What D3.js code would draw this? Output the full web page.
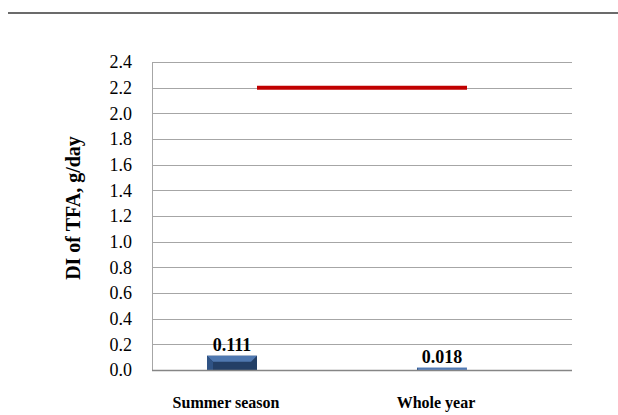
<!DOCTYPE html>
<head>
    <meta charset="utf-8">
    <script src="https://d3js.org/d3.v7.min.js"></script>
    <style>
        body { margin: 0; background: #ffffff; }
        text { font-family: "Liberation Serif", "Times New Roman", serif; fill: #000000; }
        text.tickLabel { font-size: 18px; }
        text.catLabel { font-size: 16px; font-weight: 700; }
        text.valueLabel { font-size: 18px; font-weight: 700; }
        text.axisTitle { font-size: 20px; font-weight: 700; }
        .grid line { stroke: #a6a6a6; stroke-width: 1; shape-rendering: crispEdges; }
    </style>
</head>
<body>
<script>
    // chart data
    var categories = ["Summer season", "Whole year"];
    var diValues = [0.111, 0.018];
    var limitValues = [2.2, 2.2];
    var yTicks = [0, 0.2, 0.4, 0.6, 0.8, 1.0, 1.2, 1.4, 1.6, 1.8, 2.0, 2.2, 2.4];
    var seriesSlots = ["DI", "spare"];

    var width = 618, height = 415;

    var svg = d3.select("body").append("svg")
        .attr("width", width)
        .attr("height", height);

    // rule across the top of the page
    svg.append("line")
        .attr("x1", 8).attr("x2", width)
        .attr("y1", 13).attr("y2", 13)
        .style("stroke", "#3a3a3a")
        .style("stroke-width", 1.5);

    var plot = {left: 152, right: 572, top: 62, bottom: 370};

    var x = d3.scaleBand()
        .domain(categories)
        .range([plot.left, plot.right]);

    var xInner = d3.scaleBand()
        .domain(seriesSlots)
        .range([0, x.bandwidth()])
        .paddingOuter(1.1);

    var y = d3.scaleLinear()
        .domain([0, 2.4])
        .range([plot.bottom, plot.top]);

    // gridlines
    var grid = svg.append("g").attr("class", "grid");
    grid.selectAll("line.h")
        .data(yTicks)
        .enter()
        .append("line")
        .attr("class", "h")
        .attr("x1", plot.left).attr("x2", plot.right)
        .attr("y1", d => Math.round(y(d)) + 0.5)
        .attr("y2", d => Math.round(y(d)) + 0.5);

    grid.append("line")
        .attr("x1", plot.left + 0.5).attr("x2", plot.left + 0.5)
        .attr("y1", y(2.4)).attr("y2", y(0));

    // tick labels
    svg.selectAll("text.tickLabel")
        .data(yTicks)
        .enter()
        .append("text")
        .attr("class", "tickLabel")
        .attr("x", 132)
        .attr("y", d => y(d))
        .attr("dy", "0.35em")
        .style("text-anchor", "end")
        .text(d => d3.format(".1f")(d));

    // axis title
    svg.append("text")
        .attr("class", "axisTitle")
        .attr("transform", `translate(80, 208) rotate(-90)`)
        .style("text-anchor", "middle")
        .text("DI of TFA, g/day");

    // bars with bevel look
    var bw = xInner.bandwidth();
    var barData = categories.map((c, i) => ({cat: c, value: diValues[i]}));
    var bars = svg.selectAll("g.bar")
        .data(barData)
        .enter()
        .append("g")
        .attr("class", "bar");

    bars.append("rect")
        .attr("x", d => x(d.cat) + xInner("DI"))
        .attr("y", d => y(d.value))
        .attr("width", bw)
        .attr("height", d => y(0) - y(d.value))
        .style("fill", d => d.value > 0.05 ? "#233f66" : "#5b83bf");

    bars.append("polygon")
        .attr("points", d => {
            var x0 = x(d.cat) + xInner("DI"), x1 = x0 + bw;
            var t = y(d.value), h = y(0) - t;
            var b = Math.min(6, h / 2);
            return [[x0, t], [x1, t], [x1 - b, t + b], [x0 + b, t + b]].join(" ");
        })
        .style("fill", "#4f78b0");

    bars.append("polygon")
        .attr("points", d => {
            var x0 = x(d.cat) + xInner("DI"), x1 = x0 + bw;
            var t = y(d.value), h = y(0) - t;
            var b = Math.min(6, h / 2);
            return [[x0, t], [x0 + b, t + b], [x0 + b, y(0)], [x0, y(0)]].join(" ");
        })
        .style("fill", "#2f5385");

    // bottom axis line
    svg.append("line")
        .attr("x1", plot.left).attr("x2", plot.right)
        .attr("y1", Math.round(y(0)) + 0.5).attr("y2", Math.round(y(0)) + 0.5)
        .style("stroke", "#868686")
        .style("stroke-width", 1.5);

    // value labels
    svg.selectAll("text.valueLabel")
        .data(barData)
        .enter()
        .append("text")
        .attr("class", "valueLabel")
        .attr("x", d => x(d.cat) + xInner("DI") + bw / 2)
        .attr("y", d => y(d.value) - 5)
        .style("text-anchor", "middle")
        .text(d => d3.format(".3f")(d.value));

    // limit line
    var line = d3.line()
        .x((d, i) => x(categories[i]) + x.bandwidth() / 2)
        .y(d => y(d));

    svg.append("path")
        .datum(limitValues)
        .attr("d", line)
        .style("fill", "none")
        .style("stroke", "#c00000")
        .style("stroke-width", 4);

    // category labels, sitting a little left of the bar centres as in the source
    svg.selectAll("text.catLabel")
        .data(categories)
        .enter()
        .append("text")
        .attr("class", "catLabel")
        .attr("x", d => x(d) + xInner("DI") + bw / 2 - 6)
        .attr("y", 408)
        .style("text-anchor", "middle")
        .text(d => d);
</script>
</body>
